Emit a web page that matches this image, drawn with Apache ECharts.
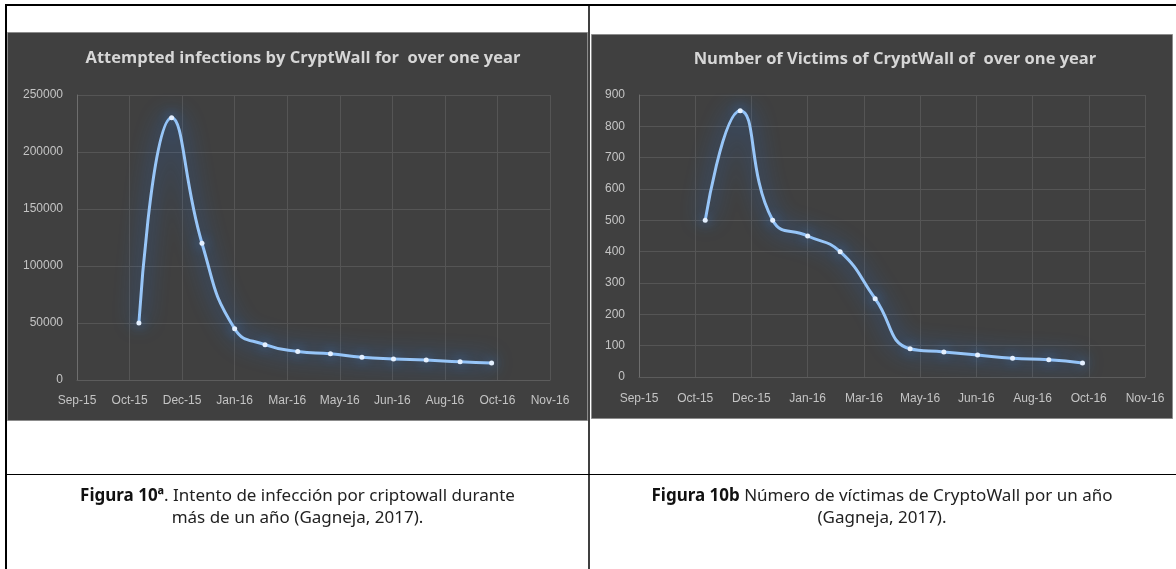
<!DOCTYPE html>
<html>
<head>
<meta charset="utf-8">
<script src="https://cdn.jsdelivr.net/npm/echarts@6/dist/echarts.min.js"></script>
<style>
  html, body { margin: 0; padding: 0; background: #ffffff; }
  #page { width: 1176px; height: 569px; }
</style>
</head>
<body>
<div id="page"></div>
<script>
// Axis tick labels (one every 45 days, starting at the first tick)
const tickLabels = ['Sep-15', 'Oct-15', 'Dec-15', 'Jan-16', 'Mar-16', 'May-16', 'Jun-16', 'Aug-16', 'Oct-16', 'Nov-16'];
// Sample dates, in days after the first tick
const sampleDays = [53, 81, 107, 135, 161, 189, 217, 244, 271, 299, 328, 355];
// Attempted infections by CryptoWall
const attemptedInfections = [50000, 230000, 120000, 45000, 31000, 25000, 23000, 20000, 18500, 17500, 16000, 15000];
// Number of victims of CryptoWall
const victims = [500, 850, 500, 450, 400, 250, 90, 80, 70, 60, 55, 45];

const titleA = 'Attempted infections by CryptWall for  over one year';
const titleB = 'Number of Victims of CryptWall of  over one year';
const captionA = '{b|Figura 10ª}. Intento de infección por criptowall durante\nmás de un año (Gagneja, 2017).';
const captionB = '{b|Figura 10b} Número de víctimas de CryptoWall por un año\n(Gagneja, 2017).';

const TICK_STEP = 45;
const LABEL_COLOR = '#c4c4c4';
const GRID_COLOR = '#555555';

function pairs(values) {
  return values.map((v, i) => [sampleDays[i], v]);
}

function xAxisFor(gridIndex, margin) {
  return {
    type: 'value', gridIndex,
    min: 0, max: TICK_STEP * (tickLabels.length - 1), interval: TICK_STEP,
    axisLine: { show: true, lineStyle: { color: '#5c5c5c', width: 1 } },
    axisTick: { show: false },
    splitLine: { show: true, lineStyle: { color: GRID_COLOR, width: 1 } },
    axisLabel: {
      color: LABEL_COLOR, fontSize: 12, fontFamily: 'Liberation Sans', margin,
      formatter: v => tickLabels[Math.round(v / TICK_STEP)] || ''
    }
  };
}

function yAxisFor(gridIndex, max, interval) {
  return {
    type: 'value', gridIndex, min: 0, max, interval,
    axisLine: { show: true, lineStyle: { color: '#6e6e6e', width: 1 } },
    axisTick: { show: false },
    splitLine: { show: true, lineStyle: { color: GRID_COLOR, width: 1 } },
    axisLabel: { color: LABEL_COLOR, fontSize: 12, fontFamily: 'Liberation Sans', margin: 14,
      formatter: v => String(v) }
  };
}

function glowSeries(idx, values) {
  return {
    type: 'line', xAxisIndex: idx, yAxisIndex: idx,
    data: pairs(values),
    smooth: 0.5,
    symbol: 'circle', symbolSize: 5,
    lineStyle: { color: '#98c6f8', width: 3, shadowColor: '#1f72e8', shadowBlur: 22 },
    itemStyle: { color: '#e4f0ff', shadowColor: '#3f93ff', shadowBlur: 12 },
    emphasis: { disabled: true },
    animation: false, z: 5
  };
}

const chart = echarts.init(document.getElementById('page'), null, { renderer: 'canvas' });

const titleStyle = { color: '#d6d6d6', fontSize: 16.5, fontWeight: 'bold', fontFamily: 'Open Sans' };

chart.setOption({
  backgroundColor: '#ffffff',
  animation: false,
  title: [
    { text: titleA, left: 298, top: 45, textAlign: 'center', textStyle: titleStyle },
    { text: titleB, left: 890, top: 46, textAlign: 'center', textStyle: titleStyle }
  ],
  grid: [
    { left: 77, top: 95, width: 473, height: 285 },
    { left: 639, top: 95, width: 506, height: 282 }
  ],
  xAxis: [xAxisFor(0, 15), xAxisFor(1, 16)],
  yAxis: [yAxisFor(0, 250000, 50000), yAxisFor(1, 900, 100)],
  series: [glowSeries(0, attemptedInfections), glowSeries(1, victims)],
  graphic: [
    // dark chart panels
    { type: 'rect', z: -10, shape: { x: 7.5, y: 32.5, width: 580, height: 388 },
      style: { fill: '#404040', stroke: '#8c8c8c', lineWidth: 1 } },
    { type: 'rect', z: -10, shape: { x: 591.5, y: 34.5, width: 581, height: 384 },
      style: { fill: '#404040', stroke: '#8c8c8c', lineWidth: 1 } },
    // table rules
    { type: 'line', z: 20, shape: { x1: 5, y1: 5, x2: 1176, y2: 5 }, style: { stroke: '#000', lineWidth: 2 } },
    { type: 'line', z: 20, shape: { x1: 6, y1: 4, x2: 6, y2: 569 }, style: { stroke: '#000', lineWidth: 2 } },
    { type: 'line', z: 20, shape: { x1: 589, y1: 4, x2: 589, y2: 569 }, style: { stroke: '#000', lineWidth: 1.5 } },
    { type: 'line', z: 20, shape: { x1: 6, y1: 474.5, x2: 1176, y2: 474.5 }, style: { stroke: '#000', lineWidth: 1.2 } },
    // captions
    { type: 'text', z: 20, x: 297.5, y: 485,
      style: { text: captionA, align: 'center', verticalAlign: 'top', fill: '#222',
        font: '17px "Noto Sans"', lineHeight: 22,
        rich: { b: { fontWeight: 'bold', fontSize: 17, fontFamily: 'Noto Sans', fill: '#111', lineHeight: 22 } } } },
    { type: 'text', z: 20, x: 882, y: 485,
      style: { text: captionB, align: 'center', verticalAlign: 'top', fill: '#222',
        font: '17px "Noto Sans"', lineHeight: 22,
        rich: { b: { fontWeight: 'bold', fontSize: 17, fontFamily: 'Noto Sans', fill: '#111', lineHeight: 22 } } } }
  ]
});
</script>
</body>
</html>
